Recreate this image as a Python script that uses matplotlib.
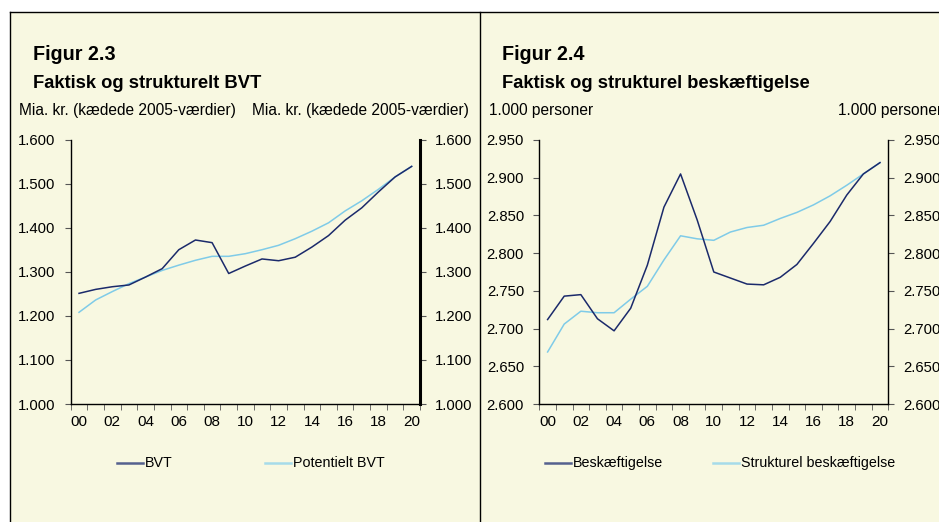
import matplotlib.pyplot as plt
import numpy as np
from matplotlib.lines import Line2D
from matplotlib.patches import Rectangle

years = list(range(2000, 2021))
year_labels = ["00", "02", "04", "06", "08", "10", "12", "14", "16", "18", "20"]

bvt = [1251, 1260, 1266, 1270, 1288, 1307, 1350, 1372, 1366, 1296, 1313,
       1329, 1325, 1333, 1356, 1382, 1417, 1445, 1481, 1515, 1539]
potentielt_bvt = [1208, 1236, 1255, 1273, 1288, 1303, 1315, 1326, 1335, 1335, 1341,
                  1350, 1360, 1375, 1392, 1411, 1438, 1461, 1487, 1515, 1539]

beskaeftigelse = [2712, 2743, 2745, 2713, 2697, 2727, 2784, 2861, 2905, 2844, 2775,
                  2767, 2759, 2758, 2768, 2785, 2813, 2842, 2877, 2905, 2920]
strukturel = [2669, 2706, 2723, 2721, 2721, 2739, 2756, 2791, 2823, 2819, 2817,
              2828, 2834, 2837, 2846, 2854, 2864, 2876, 2890, 2905, 2920]

left_ticks = [1000, 1100, 1200, 1300, 1400, 1500, 1600]
right_ticks = [2600, 2650, 2700, 2750, 2800, 2850, 2900, 2950]

DARK = "#1b2a6b"
LIGHT = "#7fcbe8"
BG = "#f8f8e1"
FONT = ["Liberation Sans", "DejaVu Sans"]

plt.rcParams["font.family"] = FONT

W, H = 939, 522


def fx(px):
    return px / W


def fy(py):
    return 1 - py / H


def dk(v):
    return f"{v:,}".replace(",", ".")


def panel(ax, s1, s2, ticks, thick_right):
    x = np.arange(len(years))
    ax.set_facecolor(BG)
    ax.plot(x, s2, color=LIGHT, lw=1.1)
    ax.plot(x, s1, color=DARK, lw=1.1)
    ax.set_xlim(-0.5, len(years) - 0.5)
    ax.set_ylim(ticks[0], ticks[-1])
    ax.set_xticks(np.arange(0, len(years), 2))
    ax.set_xticklabels(year_labels)
    ax.set_xticks(np.arange(-0.5, len(years), 1), minor=True)
    ax.tick_params(axis="x", which="major", length=0, pad=8, labelsize=11)
    ax.tick_params(axis="x", which="minor", length=4, direction="out", color="#555555")
    ax.set_yticks(ticks)
    ax.set_yticklabels([dk(t) for t in ticks])
    ax.tick_params(axis="y", length=4, direction="out", color="#555555",
                   left=True, right=True, labelleft=True, labelright=True,
                   labelsize=10.7, pad=7)
    ax.spines["top"].set_visible(False)
    for s in ["left", "bottom", "right"]:
        ax.spines[s].set_color("black")
        ax.spines[s].set_linewidth(1.0)
    if thick_right:
        ax.spines["right"].set_linewidth(2.2)


fig = plt.figure(figsize=(W / 100, H / 100), dpi=100)
fig.patch.set_facecolor("white")

# beige panel and frame lines
fig.add_artist(Rectangle((fx(10), 0), 1 - fx(10), fy(12), transform=fig.transFigure,
                         facecolor=BG, edgecolor="none", zorder=0))
fig.add_artist(Line2D([fx(10), 1], [fy(12), fy(12)], transform=fig.transFigure, color="black", lw=1))
fig.add_artist(Line2D([fx(10), fx(10)], [0, fy(12)], transform=fig.transFigure, color="black", lw=1))
fig.add_artist(Line2D([fx(480), fx(480)], [0, fy(12)], transform=fig.transFigure, color="black", lw=1))

ax1 = fig.add_axes([fx(70.7), fy(404), fx(420 - 70.7), (404 - 139.5) / H])
panel(ax1, bvt, potentielt_bvt, left_ticks, True)

ax2 = fig.add_axes([fx(539.3), fy(404), fx(888.3 - 539.3), (404 - 140) / H])
panel(ax2, beskaeftigelse, strukturel, right_ticks, False)

# headings
fig.text(fx(33), fy(55), "Figur 2.3", fontsize=14.2, fontweight="bold", va="center")
fig.text(fx(33), fy(83), "Faktisk og strukturelt BVT", fontsize=13.2, fontweight="bold", va="center")
fig.text(fx(19), fy(111), "Mia. kr. (kædede 2005-værdier)", fontsize=11.2, va="center")
fig.text(fx(252), fy(111), "Mia. kr. (kædede 2005-værdier)", fontsize=11.2, va="center")

fig.text(fx(502), fy(55), "Figur 2.4", fontsize=14.2, fontweight="bold", va="center")
fig.text(fx(502), fy(83), "Faktisk og strukturel beskæftigelse", fontsize=13.2, fontweight="bold", va="center")
fig.text(fx(489), fy(111), "1.000 personer", fontsize=11.2, va="center")
fig.text(fx(838), fy(111), "1.000 personer", fontsize=11.2, va="center")


# legends
def legend_item(x0, label, color):
    fig.add_artist(Line2D([fx(x0), fx(x0 + 26)], [fy(463), fy(463)], transform=fig.transFigure,
                          color=color, lw=1.8))
    fig.text(fx(x0 + 28), fy(463), label, fontsize=10.3, va="center")


legend_item(117, "BVT", "#55618e")
legend_item(265, "Potentielt BVT", "#a6dbe9")
legend_item(545, "Beskæftigelse", "#55618e")
legend_item(713, "Strukturel beskæftigelse", "#a6dbe9")

fig.savefig("out.png", dpi=100, facecolor=fig.get_facecolor())
